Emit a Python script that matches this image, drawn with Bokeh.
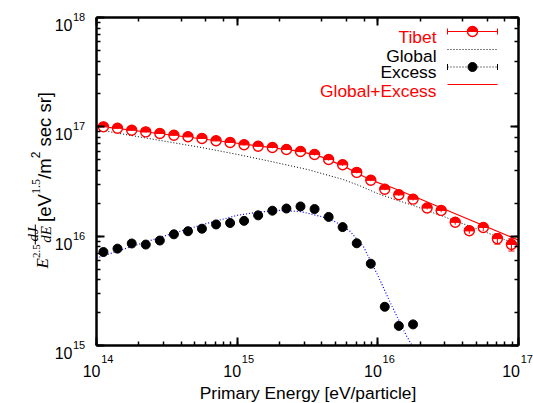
import numpy as np
from bokeh.plotting import figure
from bokeh.models import LogAxis, Label, Arrow, CustomJSTickFormatter, LogTicker
from bokeh.embed import file_html
from bokeh.resources import INLINE

# ---------------- data ----------------
E_BINS = [1.12e14, 1.41e14, 1.78e14, 2.24e14, 2.82e14, 3.55e14, 4.47e14, 5.62e14, 7.08e14, 8.91e14,
          1.12e15, 1.41e15, 1.78e15, 2.24e15, 2.82e15, 3.55e15, 4.47e15, 5.62e15, 7.08e15, 8.91e15,
          1.12e16, 1.41e16, 1.78e16, 2.24e16, 2.82e16, 3.55e16, 4.47e16, 5.62e16, 7.08e16, 8.91e16]
TIBET_FLUX = [1.00e17, 9.70e16, 9.31e16, 8.99e16, 8.69e16, 8.38e16, 8.11e16, 7.82e16, 7.45e16, 7.19e16,
              6.85e16, 6.65e16, 6.47e16, 6.21e16, 5.94e16, 5.58e16, 5.02e16, 4.50e16, 3.83e16, 3.25e16,
              2.69e16, 2.39e16, 2.18e16, 1.81e16, 1.72e16, 1.34e16, 1.12e16, 1.20e16, 9.5e15, 8.4e15]
TIBET_REL_ERR = [0.01, 0.01, 0.01, 0.01, 0.01, 0.01, 0.01, 0.01, 0.01, 0.01,
                 0.015, 0.015, 0.015, 0.015, 0.015, 0.02, 0.02, 0.02, 0.02, 0.02,
                 0.02, 0.025, 0.03, 0.03, 0.04, 0.05, 0.06, 0.07, 0.11, 0.13]

EXCESS_E = E_BINS[:23]
EXCESS_FLUX = [7.16e15, 7.69e15, 8.57e15, 8.38e15, 9.12e15, 1.04e16, 1.11e16, 1.17e16, 1.28e16, 1.32e16,
               1.38e16, 1.55e16, 1.71e16, 1.79e16, 1.87e16, 1.77e16, 1.50e16, 1.21e16, 8.61e15, 5.60e15,
               2.26e15, 1.51e15, 1.56e15]

GLOBAL_E = [1e14, 1.78e14, 3.16e14, 5.62e14, 1e15, 1.78e15, 3.16e15, 5.62e15, 7.5e15, 1e16,
            1.33e16, 1.78e16, 3.16e16, 5.62e16, 1e17]
GLOBAL_FLUX = [9.44e16, 8.32e16, 7.33e16, 6.46e16, 5.60e16, 4.79e16, 4.07e16, 3.31e16, 2.88e16, 2.45e16,
               2.16e16, 1.91e16, 1.46e16, 1.11e16, 8.3e15]

EXCESS_FIT_E = [1e14, 1.78e14, 3.16e14, 5.62e14, 1e15, 1.41e15, 2.0e15, 2.82e15, 3.98e15, 5.01e15,
                6.31e15, 7.94e15, 1e16, 1.26e16, 1.58e16, 1.75e16]
EXCESS_FIT = [6.31e15, 8.04e15, 1.02e16, 1.27e16, 1.55e16, 1.66e16, 1.72e16, 1.68e16, 1.51e16, 1.35e16,
              1.12e16, 7.94e15, 4.37e15, 2.29e15, 1.26e15, 1.0e15]

SUM_FIT_E = [1e14, 3.16e14, 1e15, 2.82e15, 3.98e15, 5.62e15, 7.94e15, 1e16, 1.26e16, 2.0e16, 3.16e16, 1e17]
SUM_FIT = [1.02e17, 8.51e16, 7.08e16, 5.96e16, 5.31e16, 4.42e16, 3.51e16, 3.09e16, 2.79e16, 2.19e16, 1.71e16, 9.2e15]

X_TICK_EXP = [14, 15, 16, 17]
Y_TICK_EXP = [15, 16, 17, 18]
LEGEND_LABELS = ["Tibet", "Global", "Excess", "Global+Excess"]

# ---------------- layout: the plot box inside a full-canvas frame ----------------
XMIN, XMAX, YMIN, YMAX = 1e14, 1e17, 1e15, 1e18
W, H = 533, 403
FL, FT, FW, FH = 96.0, 17.0, 422.0, 328.0   # data box in page pixels


def X(px):
    return 10 ** (np.log10(XMIN) + np.log10(XMAX / XMIN) * (px - FL) / FW)


def Y(py):
    return 10 ** (np.log10(YMAX) - np.log10(YMAX / YMIN) * (py - FT) / FH)


SANS = "Liberation Sans"
SERIF = "Liberation Serif"
RED = "#ff0000"

p = figure(width=W, height=H, x_axis_type="log", y_axis_type="log",
           x_range=(X(0), X(W)), y_range=(Y(H), Y(0)),
           output_backend="svg", toolbar_location=None, min_border=0)
p.grid.visible = False
p.outline_line_color = None
p.background_fill_color = "white"
p.border_fill_color = "white"

blank = CustomJSTickFormatter(code="return ''")


def style_axis(ax, loc, bounds):
    ax.fixed_location = loc
    ax.bounds = bounds
    ax.formatter = blank
    ax.major_label_standoff = 0
    ax.major_label_text_font_size = "0px"
    ax.axis_line_width = 2.5
    ax.axis_line_color = "black"
    ax.major_tick_in = 8
    ax.major_tick_out = 0
    ax.minor_tick_in = 4
    ax.minor_tick_out = 0
    ax.major_tick_line_width = 2
    ax.minor_tick_line_width = 1.5
    ax.major_tick_line_color = "black"
    ax.minor_tick_line_color = "black"


style_axis(p.xaxis[0], YMIN, (XMIN, XMAX))
style_axis(p.yaxis[0], XMIN, (YMIN, YMAX))
ax_r = LogAxis(ticker=LogTicker())
ax_t = LogAxis(ticker=LogTicker())
style_axis(ax_r, XMAX, (YMIN, YMAX))
style_axis(ax_t, YMAX, (XMIN, XMAX))
p.add_layout(ax_r, "right")
p.add_layout(ax_t, "above")

# ---------------- curves ----------------
p.line(SUM_FIT_E, SUM_FIT, line_color=RED, line_width=1.2)
p.line(GLOBAL_E, GLOBAL_FLUX, line_color="black", line_width=1, line_dash="1 2")
p.line(EXCESS_FIT_E, EXCESS_FIT, line_color="blue", line_width=1.2, line_dash="1 2")

# excess points
p.scatter(EXCESS_E, EXCESS_FLUX, marker="circle", size=9, fill_color="black", line_color="black")


def tibet_marker(xs, ys):
    p.scatter(xs, ys, marker="circle", size=10, fill_color="white", line_color=RED, line_width=1.4)
    p.wedge(x=xs, y=ys, radius=5, radius_units="screen", start_angle=0, end_angle=np.pi,
            fill_color=RED, line_color=RED, line_width=0.5)
    p.scatter(xs, ys, marker="dash", size=10, line_color=RED, line_width=1)


# Tibet points with error bars
tf = np.array(TIBET_FLUX)
te = np.array(TIBET_REL_ERR)
lo = tf * (1 - te)
hi = tf * (1 + te)
tibet_marker(E_BINS, TIBET_FLUX)
p.segment(x0=E_BINS, y0=lo, x1=E_BINS, y1=hi, line_color=RED, line_width=1)
big = te > 0.08
bx = list(np.array(E_BINS)[big])
p.scatter(bx + bx, list(lo[big]) + list(hi[big]), marker="dash", size=6, line_color=RED, line_width=1)

# ---------------- legend (gnuplot style, built by hand) ----------------
leg_text_x = 436
leg_base = [36.7, 55.0, 71.7, 90.0]
leg_mid = [31.0, 49.0, 66.5, 84.0]
leg_col = [RED, "black", "black", RED]
for t, yb, c in zip(LEGEND_LABELS, leg_base, leg_col):
    p.add_layout(Label(x=X(leg_text_x), y=Y(yb), text=t, text_align="right", text_baseline="alphabetic",
                       text_font=SANS, text_font_size="17.4px", text_color=c))
sx0, sx1, sxm = X(447), X(497), X(472)
# Tibet sample
p.segment(x0=[sx0], y0=[Y(leg_mid[0])], x1=[sx1], y1=[Y(leg_mid[0])], line_color=RED, line_width=1)
p.segment(x0=[sx0, sx1], y0=[Y(leg_mid[0] - 3)] * 2, x1=[sx0, sx1], y1=[Y(leg_mid[0] + 3)] * 2,
          line_color=RED, line_width=1)
tibet_marker([sxm], [Y(leg_mid[0])])
# Global sample
p.segment(x0=[sx0], y0=[Y(leg_mid[1])], x1=[sx1], y1=[Y(leg_mid[1])], line_color="black",
          line_width=1, line_dash="1 2")
# Excess sample
p.segment(x0=[sx0], y0=[Y(leg_mid[2])], x1=[sx1], y1=[Y(leg_mid[2])], line_color="black",
          line_width=1, line_dash="1 2")
p.segment(x0=[sx0, sx1], y0=[Y(leg_mid[2] - 3)] * 2, x1=[sx0, sx1], y1=[Y(leg_mid[2] + 3)] * 2,
          line_color="black", line_width=1)
p.scatter([sxm], [Y(leg_mid[2])], marker="circle", size=9, fill_color="black", line_color="black")
# Global+Excess sample
p.segment(x0=[sx0], y0=[Y(leg_mid[3])], x1=[sx1], y1=[Y(leg_mid[3])], line_color=RED, line_width=1.2)

# ---------------- tick labels ----------------
for e in X_TICK_EXP:
    sh = 4 if e < X_TICK_EXP[-1] else 1.5
    p.add_layout(Label(x=10.0 ** e, y=Y(370), x_offset=sh, text="10", text_align="right",
                       text_baseline="alphabetic", text_font=SANS, text_font_size="16px", text_color="black"))
    p.add_layout(Label(x=10.0 ** e, y=Y(358.5), x_offset=sh + 0.7, text=str(e), text_align="left",
                       text_baseline="alphabetic", text_font=SANS, text_font_size="11px", text_color="black"))
for e in Y_TICK_EXP:
    p.add_layout(Label(x=X(72), y=10.0 ** e, y_offset=-7.5, text="10", text_align="right",
                       text_baseline="alphabetic", text_font=SANS, text_font_size="16px", text_color="black"))
    p.add_layout(Label(x=X(72.5), y=10.0 ** e, y_offset=0.5, text=str(e), text_align="left",
                       text_baseline="alphabetic", text_font=SANS, text_font_size="11px", text_color="black"))

# ---------------- axis titles ----------------
p.add_layout(Label(x=X(307.5), y=Y(392), text="Primary Energy [eV/particle]", text_align="center",
                   text_baseline="alphabetic", text_font=SANS, text_font_size="17.4px", text_color="black"))

A = np.pi / 2


def vlab(px, py, txt, font, size, style="normal", align="left"):
    p.add_layout(Label(x=X(px), y=Y(py), text=txt, angle=A, text_align=align, text_baseline="alphabetic",
                       text_font=font, text_font_size=size, text_font_style=style, text_color="black"))


vlab(42, 268, "E", SERIF, "17px", "italic")
vlab(35.5, 257.5, "2.5", SERIF, "11px")
vlab(32.5, 234, "dJ", SERIF, "15px", "italic", "center")
vlab(45, 234, "dE", SERIF, "15px", "italic", "center")
p.add_layout(Arrow(end=None, x_start=X(34.8), y_start=Y(244), x_end=X(34.8), y_end=Y(224),
                   line_color="black", line_width=1))
vlab(43.5, 221.5, "[eV", SANS, "18.5px")
vlab(35, 193.5, "1.5", SERIF, "12px")
vlab(43.5, 178.5, "/m", SANS, "18.5px")
vlab(35, 157.7, "2", SANS, "12px")
vlab(43.5, 146, "sec sr]", SANS, "18.5px")

open("out.html", "w").write(file_html(p, INLINE))
